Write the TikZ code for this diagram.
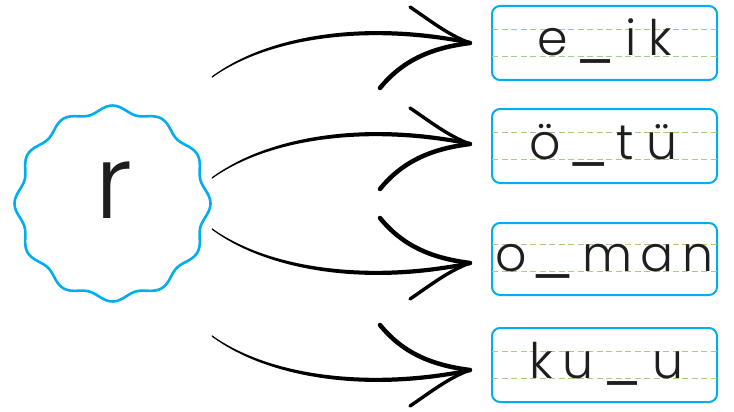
\documentclass[tikz,border=0pt]{standalone}
\usepackage{fontspec}
\setmainfont{Poppins}[UprightFont=* Light]
\usetikzlibrary{calc}
\definecolor{wblue}{HTML}{00AEEF}
\definecolor{wgreen}{HTML}{9FCF85}
\definecolor{ink}{HTML}{1E1E1E}
\newcommand{\ch}[1]{\makebox[0pt]{#1}}
\newcommand{\bl}[1]{\makebox[0pt]{\raisebox{-1.5pt}{\scalebox{#1}[1.2]{\_}}}}
\tikzset{
  wbox/.style={draw=wblue, line width=2pt, rounded corners=8pt, minimum width=225pt, inner sep=0pt},
  guide/.style={draw=wgreen, line width=1.3pt, dash pattern=on 6pt off 3.5pt},
  word/.style={anchor=base west, inner sep=0pt, text=ink, font=\fontsize{49}{49}\selectfont},
  bigletter/.style={anchor=base, inner sep=0pt, text=ink, font=\fontsize{102}{102}\selectfont},
  arrowpic/.pic={
    \fill[black] (-258,33.3) .. controls (-200,-9.5) and (-100,-23.5) .. (1,-2)
      -- (1,2) .. controls (-100,-18.5) and (-200,-6.5) .. (-258,34.7) -- cycle;
    \draw[black, line width=0.8pt, line cap=round] (-258,34) -- (-256,32.6);
    \draw[black, line width=4.5pt, line cap=round] (-90,45) .. controls (-68,18) and (-40,5) .. (0,0);
    \draw[black, line width=3.4pt, line cap=round] (-60,-36) .. controls (-42,-24) and (-22,-8) .. (0,0);
  }
}
\begin{document}
\begin{tikzpicture}[x=1pt,y=-1pt]
\useasboundingbox (0,0) rectangle (734,412);
% wavy circle
\draw[wblue, line width=2.6pt] plot[domain=0:360, samples=241, smooth]
  ({112.5+(94.5+3.5*cos(12*\x))*cos(\x)}, {203.5+(94.5+3.5*cos(12*\x))*sin(\x)}) -- cycle;
\coordinate (c) at (112.5,203.5);
\node[bigletter] (r) at (114,218) {r};
% boxes
\node[wbox, minimum height=74pt] (b1) at (604.5,43) {};
\node[wbox, minimum height=74pt] (b2) at (604.5,146) {};
\node[wbox, minimum height=72pt] (b3) at (604.5,259) {};
\node[wbox, minimum height=74pt] (b4) at (604.5,365) {};
\foreach \b/\u/\l in {b1/24.5/51.5, b2/24.5/51.5, b3/22.5/49.5, b4/24.5/51.5}{
  \draw[guide] ($(\b.north west)+(1,\u)$) -- ($(\b.north east)+(-1,\u)$);
  \draw[guide] ($(\b.north west)+(1,\l)$) -- ($(\b.north east)+(-1,\l)$);
}
\node[word] (t1) at ($(b1.north west)+(62,51)$)
  {\ch{e}\kern42.5pt\bl{1.2}\kern35.5pt\ch{i}\kern29.5pt\ch{k}};
\node[word] (t2) at ($(b2.north west)+(54.5,51)$)
  {\ch{ö}\kern43pt\bl{1.27}\kern37pt\ch{t}\kern36pt\ch{ü}};
\node[word] (t3) at ($(b3.north west)+(20.5,49)$)
  {\ch{o}\kern41pt\bl{1.35}\kern55pt\ch{m}\kern49pt\ch{a}\kern41pt\ch{n}};
\node[word] (t4) at ($(b4.north west)+(50,51)$)
  {\ch{k}\kern37pt\ch{u}\kern44.5pt\bl{1.2}\kern45pt\ch{u}};
% arrows
\pic at (470,43) {arrowpic};
\pic at (470,144) {arrowpic};
\pic[yscale=-1] at (470,263) {arrowpic};
\pic[yscale=-1] at (470,370) {arrowpic};
\end{tikzpicture}
\end{document}
